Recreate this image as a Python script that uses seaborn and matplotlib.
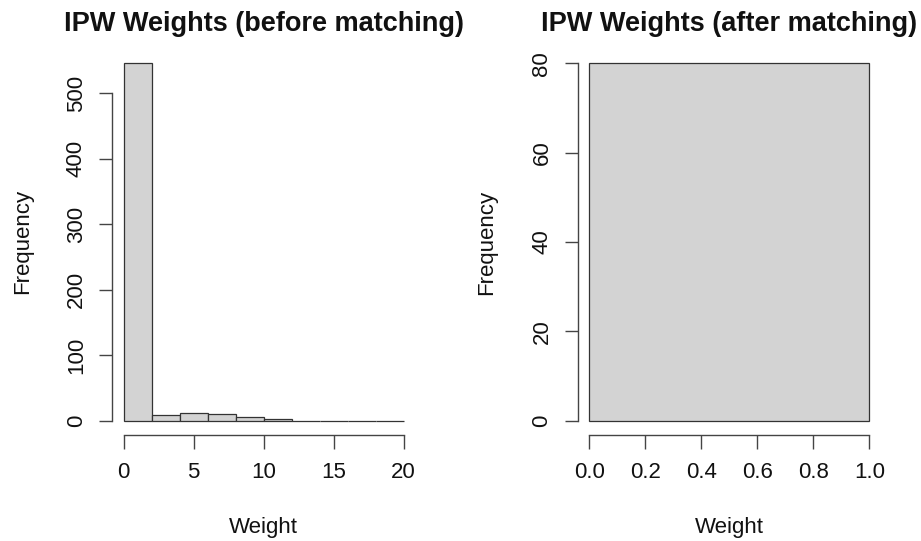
import numpy as np
import pandas as pd
import seaborn as sns
import matplotlib.pyplot as plt

# histogram bins
before_edges = [0, 2, 4, 6, 8, 10, 12, 14, 16, 18, 20]
before_counts = [546, 8, 12, 10, 5, 2, 0, 0, 0, 0]
before_xticks = [0, 5, 10, 15, 20]
before_yticks = [0, 100, 200, 300, 400, 500]

after_edges = [0, 1]
after_counts = [80]
after_xticks = [0.0, 0.2, 0.4, 0.6, 0.8, 1.0]
after_yticks = [0, 20, 40, 60, 80]

sns.set_style("white")
plt.rcParams["font.family"] = ["Liberation Sans", "DejaVu Sans"]

FILL = "#d3d3d3"
EDGE = "#333333"
AXC = "#444444"
TXT = "#111111"

fig = plt.figure(figsize=(9.21, 5.41), dpi=100)
ax1 = fig.add_axes([0.1221, 0.1959, 0.3283, 0.7139])
ax2 = fig.add_axes([0.6277, 0.1959, 0.3283, 0.7135])


def draw(ax, edges, counts, xticks, yticks, title, xfmt, ylab_x):
    df = pd.DataFrame({"mid": (np.array(edges[:-1]) + np.array(edges[1:])) / 2,
                       "n": counts})
    sns.histplot(data=df, x="mid", weights="n", bins=edges, stat="count",
                 color=FILL, edgecolor=EDGE, linewidth=0.9, alpha=1, ax=ax)
    lo, hi = edges[0], edges[-1]
    top = max(counts)
    ax.set_xlim(lo - 0.04 * (hi - lo), hi + 0.04 * (hi - lo))
    ax.set_ylim(-0.04 * top, 1.04 * top)
    ax.set_xticks(xticks)
    ax.set_yticks(yticks)
    ax.set_xticklabels([xfmt.format(t) for t in xticks])
    for s in ["top", "right"]:
        ax.spines[s].set_visible(False)
    for s in ["left", "bottom"]:
        ax.spines[s].set_color(AXC)
        ax.spines[s].set_linewidth(1.0)
    ax.spines["left"].set_bounds(yticks[0], yticks[-1])
    ax.spines["bottom"].set_bounds(xticks[0], xticks[-1])
    ax.tick_params(axis="both", direction="out", width=1.0,
                   color=AXC, labelsize=16, labelcolor=TXT)
    ax.tick_params(axis="x", bottom=True, length=10, pad=9.5)
    ax.tick_params(axis="y", left=True, length=9.5, pad=9, labelrotation=90)
    for lab in ax.get_yticklabels():
        lab.set_va("center")
    ax.set_xlabel("Weight", fontsize=16, color=TXT, va="center")
    ax.set_ylabel("Frequency", fontsize=16, color=TXT, va="center")
    ax.xaxis.set_label_coords(0.5, -0.24)
    ax.yaxis.set_label_coords(ylab_x, 0.5)
    ax.text(0.5, 1.046, title, transform=ax.transAxes, ha="center",
            va="baseline", fontsize=19.5, fontweight="bold", color=TXT)


draw(ax1, before_edges, before_counts, before_xticks, before_yticks,
     "IPW Weights (before matching)", "{:g}", -0.298)
draw(ax2, after_edges, after_counts, after_xticks, after_yticks,
     "IPW Weights (after matching)", "{:.1f}", -0.302)

fig.savefig("out.png", dpi=100)
